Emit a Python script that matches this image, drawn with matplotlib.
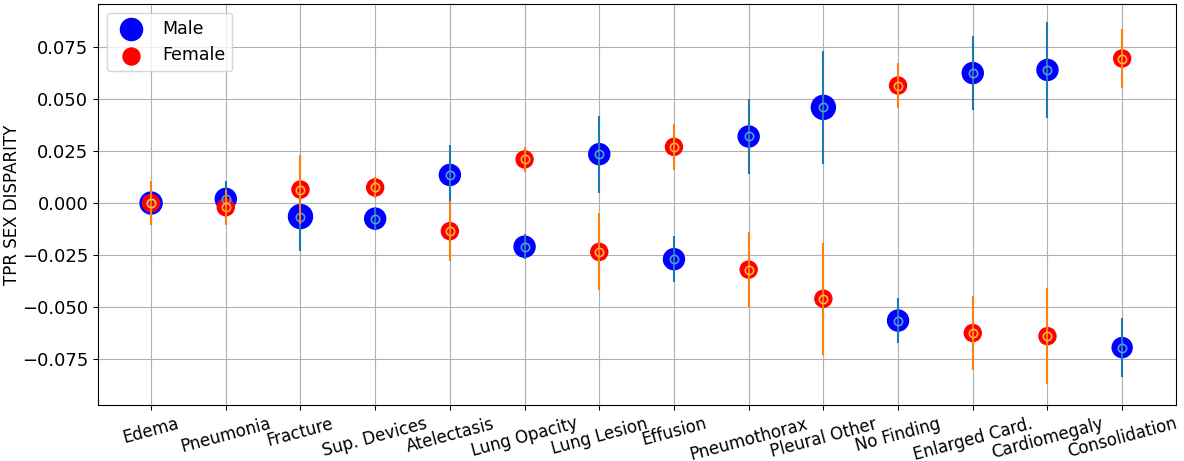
import numpy as np
import matplotlib.pyplot as plt

# ------- Datos -------
etiquetas = ['Edema', 'Pneumonia', 'Fracture', 'Sup. Devices', 'Atelectasis',
             'Lung Opacity', 'Lung Lesion', 'Effusion', 'Pneumothorax',
             'Pleural Other', 'No Finding', 'Enlarged Card.', 'Cardiomegaly',
             'Consolidation']

male = [0.000, 0.002, -0.0065, -0.0075, 0.0135, -0.021, 0.0235, -0.027,
        0.032, 0.046, -0.0565, 0.0625, 0.064, -0.0695]
female = [0.000, -0.002, 0.0065, 0.0075, -0.0135, 0.021, -0.0235, 0.027,
          -0.032, -0.046, 0.0565, -0.0625, -0.064, 0.0695]
error = [0.0105, 0.0085, 0.0165, 0.005, 0.0145, 0.006, 0.0185, 0.011,
         0.018, 0.027, 0.011, 0.018, 0.023, 0.014]

# diametro aproximado de los circulos (px)
diam_male = [22, 21, 24, 21, 21, 21, 21, 21, 21, 24, 21, 21, 21, 20]
diam_female = [17, 17, 17, 17, 17, 17, 17, 17, 17, 17, 17, 17, 17, 17]

x = np.arange(len(etiquetas))
s_male = (np.array(diam_male) * 0.72) ** 2
s_female = (np.array(diam_female) * 0.72) ** 2

fig = plt.figure(figsize=(11.84, 4.61), dpi=100)
ax = fig.add_axes([0.0828, 0.1215, 0.9104, 0.8698])

ax.scatter(x, male, s=s_male, color='blue', label='Male', zorder=3)
ax.scatter(x, female, s=s_female, color='red', label='Female', zorder=4)

ax.errorbar(x, male, yerr=error, fmt='o', ms=6, mfc='none', mec='#5b9bd5',
            mew=1.2, ecolor='#1f77b4', elinewidth=1.5, zorder=5)
ax.errorbar(x, female, yerr=error, fmt='o', ms=6, mfc='none', mec='#ffb347',
            mew=1.2, ecolor='#ff7f0e', elinewidth=1.5, zorder=6)

ax.set_xticks(x)
ax.set_xticklabels(etiquetas, rotation=15, fontsize=12)
ax.set_xlim(-0.71, 13.72)
ax.set_ylim(-0.0971, 0.0957)
ax.set_yticks([-0.075, -0.05, -0.025, 0.0, 0.025, 0.05, 0.075])
ax.tick_params(axis='y', labelsize=13)
ax.set_ylabel('TPR SEX DISPARITY', fontsize=12)
ax.yaxis.set_label_coords(-0.0715, 0.5)
ax.grid(True, color='#b0b0b0', linewidth=0.8)
ax.set_axisbelow(True)

ax.legend(loc='upper left', fontsize=12.5, scatterpoints=1)

plt.savefig('out.png', dpi=100)
